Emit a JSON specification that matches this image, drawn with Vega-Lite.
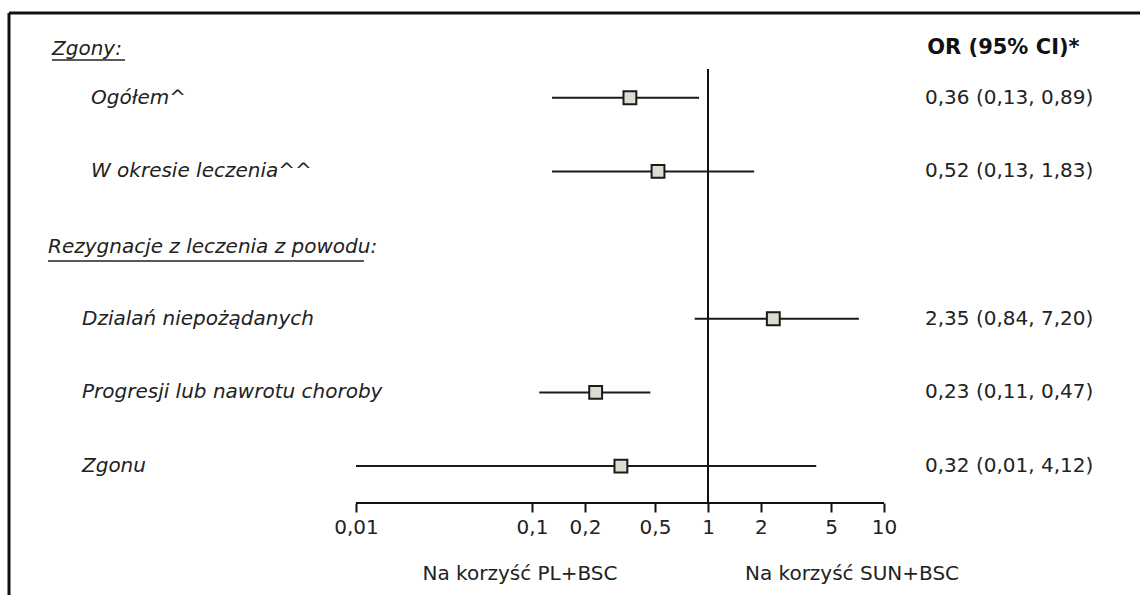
{
  "$schema": "https://vega.github.io/schema/vega-lite/v6.json",
  "width": 1131,
  "height": 582,
  "autosize": {"type": "none"},
  "padding": {"left": 9, "top": 13, "right": 0, "bottom": 0},
  "background": "white",
  "config": {
    "view": {"stroke": null},
    "font": "DejaVu Sans",
    "axisX": {
      "offset": -92, "domain": false, "grid": false, "ticks": true,
      "tickSize": 9, "tickWidth": 2, "tickColor": "#111",
      "labelFont": "DejaVu Sans", "labelFontSize": 20, "labelColor": "#222",
      "labelPadding": 5, "labelFlush": false, "labelOverlap": false, "title": null
    }
  },
  "datasets": {
    "rows": [
      {"label": "Ogółem^", "section": "Zgony", "row": 1, "or": 0.36, "lo": 0.13, "hi": 0.89, "ci": "0,36 (0,13, 0,89)"},
      {"label": "W okresie leczenia^^", "section": "Zgony", "row": 2, "or": 0.52, "lo": 0.13, "hi": 1.83, "ci": "0,52 (0,13, 1,83)"},
      {"label": "Dzialań niepożądanych", "section": "Rezygnacje", "row": 4, "or": 2.35, "lo": 0.84, "hi": 7.2, "ci": "2,35 (0,84, 7,20)"},
      {"label": "Progresji lub nawrotu choroby", "section": "Rezygnacje", "row": 5, "or": 0.23, "lo": 0.11, "hi": 0.47, "ci": "0,23 (0,11, 0,47)"},
      {"label": "Zgonu", "section": "Rezygnacje", "row": 6, "or": 0.32, "lo": 0.01, "hi": 4.12, "ci": "0,32 (0,01, 4,12)"}
    ],
    "one": [{}]
  },
  "layer": [
    {
      "data": {"name": "one"},
      "mark": {"type": "rule", "color": "#111", "strokeWidth": 3},
      "encoding": {
        "y": {"datum": -0.15, "type": "quantitative", "scale": {"domain": [-0.15, 7.75], "reverse": true, "nice": false, "zero": false}, "axis": null}
      }
    },
    {
      "data": {"name": "one"},
      "mark": {"type": "rule", "color": "#111", "strokeWidth": 3},
      "encoding": {
        "x": {"datum": 0.00010676, "type": "quantitative", "scale": {"type": "log", "domain": [0.00010676, 284.8], "nice": false}, "axis": {"values": [0.01, 0.1, 0.2, 0.5, 1, 2, 5, 10], "labelExpr": "replace(toString(datum.value), '.', ',')"}}
      }
    },
    {
      "data": {"name": "one"},
      "mark": {"type": "rule", "color": "#111", "strokeWidth": 2},
      "encoding": {
        "x": {"datum": 0.01, "type": "quantitative", "axis": {"values": [0.01, 0.1, 0.2, 0.5, 1, 2, 5, 10], "labelExpr": "replace(toString(datum.value), '.', ',')"}},
        "x2": {"datum": 10},
        "y": {"datum": 6.5, "type": "quantitative", "axis": null}
      }
    },
    {
      "data": {"name": "one"},
      "mark": {"type": "rule", "color": "#111", "strokeWidth": 2},
      "encoding": {
        "x": {"datum": 1, "type": "quantitative", "axis": {"values": [0.01, 0.1, 0.2, 0.5, 1, 2, 5, 10], "labelExpr": "replace(toString(datum.value), '.', ',')"}},
        "y": {"datum": 0.61, "type": "quantitative", "axis": null},
        "y2": {"datum": 6.5}
      }
    },
    {
      "data": {"name": "rows"},
      "mark": {"type": "rule", "color": "#1a1a1a", "strokeWidth": 2},
      "encoding": {
        "x": {
          "field": "lo", "type": "quantitative",
          "scale": {"type": "log", "domain": [0.00010676, 284.8], "nice": false},
          "axis": {"values": [0.01, 0.1, 0.2, 0.5, 1, 2, 5, 10], "labelExpr": "replace(toString(datum.value), '.', ',')"}
        },
        "x2": {"field": "hi"},
        "y": {"field": "row", "type": "quantitative", "scale": {"domain": [-0.15, 7.75], "reverse": true, "nice": false, "zero": false}, "axis": null}
      }
    },
    {
      "data": {"name": "rows"},
      "mark": {"type": "point", "shape": "square", "filled": true, "fill": "#dcdcd2", "stroke": "#1a1a1a", "strokeWidth": 2, "size": 165, "opacity": 1},
      "encoding": {
        "x": {"field": "or", "type": "quantitative", "axis": {"values": [0.01, 0.1, 0.2, 0.5, 1, 2, 5, 10], "labelExpr": "replace(toString(datum.value), '.', ',')"}},
        "y": {"field": "row", "type": "quantitative", "axis": null}
      }
    },
    {
      "data": {"name": "rows"},
      "transform": [{"filter": "datum.section === 'Zgony'"}],
      "mark": {"type": "text", "align": "left", "baseline": "middle", "fontSize": 20, "fontStyle": "italic", "color": "#222"},
      "encoding": {
        "x": {"datum": 0.000312, "type": "quantitative", "axis": {"values": [0.01, 0.1, 0.2, 0.5, 1, 2, 5, 10], "labelExpr": "replace(toString(datum.value), '.', ',')"}},
        "y": {"field": "row", "type": "quantitative", "axis": null},
        "text": {"field": "label"}
      }
    },
    {
      "data": {"name": "rows"},
      "transform": [{"filter": "datum.section === 'Rezygnacje'"}],
      "mark": {"type": "text", "align": "left", "baseline": "middle", "fontSize": 20, "fontStyle": "italic", "color": "#222"},
      "encoding": {
        "x": {"datum": 0.0002774, "type": "quantitative", "axis": {"values": [0.01, 0.1, 0.2, 0.5, 1, 2, 5, 10], "labelExpr": "replace(toString(datum.value), '.', ',')"}},
        "y": {"field": "row", "type": "quantitative", "axis": null},
        "text": {"field": "label"}
      }
    },
    {
      "data": {"name": "rows"},
      "mark": {"type": "text", "align": "left", "baseline": "middle", "fontSize": 20, "color": "#222"},
      "encoding": {
        "x": {"datum": 17.1, "type": "quantitative", "axis": {"values": [0.01, 0.1, 0.2, 0.5, 1, 2, 5, 10], "labelExpr": "replace(toString(datum.value), '.', ',')"}},
        "y": {"field": "row", "type": "quantitative", "axis": null},
        "text": {"field": "ci"}
      }
    },
    {
      "data": {"name": "one"},
      "mark": {"type": "text", "align": "left", "baseline": "middle", "fontSize": 20, "fontStyle": "italic", "color": "#222", "text": "Zgony:"},
      "encoding": {
        "x": {"datum": 0.0001874, "type": "quantitative", "axis": {"values": [0.01, 0.1, 0.2, 0.5, 1, 2, 5, 10], "labelExpr": "replace(toString(datum.value), '.', ',')"}},
        "y": {"datum": 0.339, "type": "quantitative", "axis": null}
      }
    },
    {
      "data": {"name": "one"},
      "mark": {"type": "rule", "color": "#222", "strokeWidth": 1.5},
      "encoding": {
        "x": {"datum": 0.0001874, "type": "quantitative", "axis": {"values": [0.01, 0.1, 0.2, 0.5, 1, 2, 5, 10], "labelExpr": "replace(toString(datum.value), '.', ',')"}},
        "x2": {"datum": 0.000487},
        "y": {"datum": 0.488, "type": "quantitative", "axis": null}
      }
    },
    {
      "data": {"name": "one"},
      "mark": {"type": "text", "align": "left", "baseline": "middle", "fontSize": 20, "fontStyle": "italic", "color": "#222", "text": "Rezygnacje z leczenia z powodu:"},
      "encoding": {
        "x": {"datum": 0.0001778, "type": "quantitative", "axis": {"values": [0.01, 0.1, 0.2, 0.5, 1, 2, 5, 10], "labelExpr": "replace(toString(datum.value), '.', ',')"}},
        "y": {"datum": 3.026, "type": "quantitative", "axis": null}
      }
    },
    {
      "data": {"name": "one"},
      "mark": {"type": "rule", "color": "#222", "strokeWidth": 1.5},
      "encoding": {
        "x": {"datum": 0.0001778, "type": "quantitative", "axis": {"values": [0.01, 0.1, 0.2, 0.5, 1, 2, 5, 10], "labelExpr": "replace(toString(datum.value), '.', ',')"}},
        "x2": {"datum": 0.0111},
        "y": {"datum": 3.216, "type": "quantitative", "axis": null}
      }
    },
    {
      "data": {"name": "one"},
      "mark": {"type": "text", "align": "left", "baseline": "middle", "fontSize": 21, "fontWeight": "bold", "color": "#111", "text": "OR (95% CI)*"},
      "encoding": {
        "x": {"datum": 17.6, "type": "quantitative", "axis": {"values": [0.01, 0.1, 0.2, 0.5, 1, 2, 5, 10], "labelExpr": "replace(toString(datum.value), '.', ',')"}},
        "y": {"datum": 0.32, "type": "quantitative", "axis": null}
      }
    },
    {
      "data": {"name": "one"},
      "mark": {"type": "text", "align": "center", "baseline": "middle", "fontSize": 20, "color": "#222", "text": "Na korzyść PL+BSC"},
      "encoding": {
        "x": {"datum": 0.0855, "type": "quantitative", "axis": {"values": [0.01, 0.1, 0.2, 0.5, 1, 2, 5, 10], "labelExpr": "replace(toString(datum.value), '.', ',')"}},
        "y": {"datum": 7.465, "type": "quantitative", "axis": null}
      }
    },
    {
      "data": {"name": "one"},
      "mark": {"type": "text", "align": "center", "baseline": "middle", "fontSize": 20, "color": "#222", "text": "Na korzyść SUN+BSC"},
      "encoding": {
        "x": {"datum": 6.58, "type": "quantitative", "axis": {"values": [0.01, 0.1, 0.2, 0.5, 1, 2, 5, 10], "labelExpr": "replace(toString(datum.value), '.', ',')"}},
        "y": {"datum": 7.465, "type": "quantitative", "axis": null}
      }
    }
  ]
}
